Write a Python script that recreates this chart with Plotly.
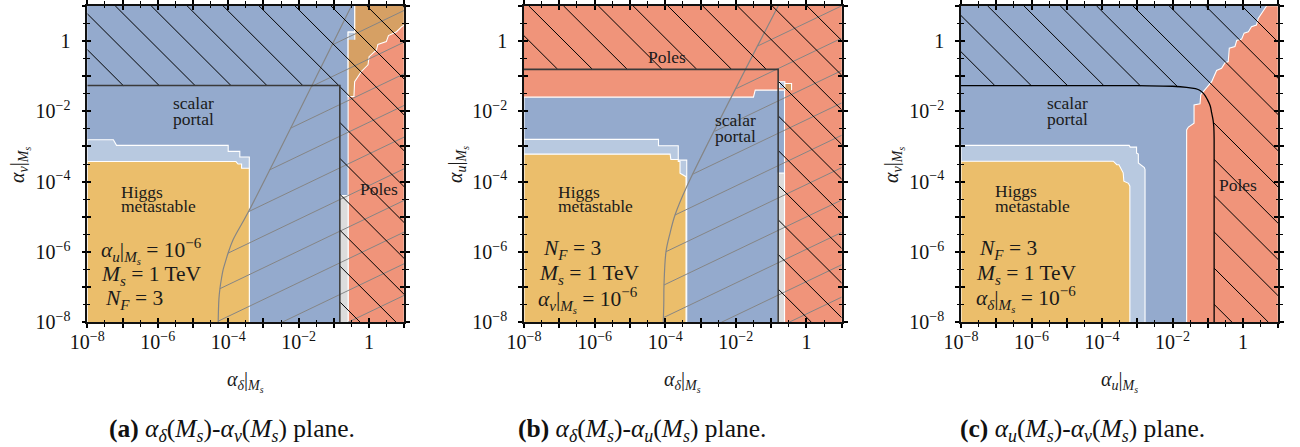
import numpy as np
import plotly.graph_objects as go

SERIF = "Liberation Serif, DejaVu Serif, serif"
W, H = 1300, 447

# ---------------------------------------------------------------
# Region boundaries, all given as log10 of the couplings at M_s
# ---------------------------------------------------------------
LOG_LO, LOG_HI = -8, 1

# (a) alpha_delta (x) vs alpha_v (y)
A_LIGHT_X = [-8, -8, -7.26, -7.17, -4.0, -4.0, -3.67, -3.67, -3.40, -3.40]
A_LIGHT_Y = [-8, -2.81, -2.81, -2.97, -2.97, -3.14, -3.14, -3.30, -3.30, -8]
A_HIGGS_X = [-8, -8, -3.78, -3.72, -3.62, -3.62, -3.40, -3.40]
A_HIGGS_Y = [-8, -3.43, -3.43, -3.50, -3.50, -3.62, -3.62, -8]
A_POLES_X = [-0.595, -0.595, -0.406, -0.406, 1, 1]
A_POLES_Y = [-8, 0.03, 0.03, 1, 1, -8]
A_OVERLAP_X = [-0.406, -0.406, -0.595, -0.595, -0.43, -0.41, -0.22, -0.03, 0.0,
               0.21, 0.25, 0.49, 0.55, 0.78, 0.92, 1, 1]
A_OVERLAP_Y = [1, 0.25, 0.25, -1.58, -1.58, -1.16, -0.87, -0.68, -0.45,
               -0.26, -0.10, -0.02, 0.15, 0.26, 0.40, 0.45, 1]
A_NOTCH_X = [-0.595, -0.595, -0.406, -0.406]
A_NOTCH_Y = [0.03, 0.25, 0.25, 0.03]
A_GREY_X = [-0.83, -0.83, -0.595, -0.595]
A_GREY_Y = [-8, -4.40, -4.40, -8]
A_BOX_X = [-8, -0.83, -0.83]
A_BOX_Y = [-1.27, -1.27, -8]
A_CURVE_X = [-4.284, -4.264, -4.235, -4.187, -4.142, -4.065, -4.0, -3.858, -3.433, -0.499]
A_CURVE_Y = [-8, -7.349, -7.045, -6.733, -6.498, -6.234, -6.024, -5.647, -4.872, 1]

# (b) alpha_delta (x) vs alpha_u (y)
B_SCALAR_X = [-8, -8, -1.50, -1.45, -0.62, -0.62]
B_SCALAR_Y = [-8, -1.60, -1.60, -1.40, -1.40, -8]
B_LIGHT_X = [-8, -8, -4.19, -4.19, -3.63, -3.63, -3.39, -3.39]
B_LIGHT_Y = [-8, -2.80, -2.80, -2.98, -2.98, -3.39, -3.39, -8]
B_HIGGS_X = [-8, -8, -3.86, -3.84, -3.63, -3.63, -3.58, -3.58, -3.41, -3.41]
B_HIGGS_Y = [-8, -3.22, -3.22, -3.37, -3.37, -3.43, -3.43, -3.76, -3.86, -8]
B_NOTCH_X = [-0.77, -0.77, -0.61, -0.61]
B_NOTCH_Y = [-1.34, -1.16, -1.16, -1.34]
B_OVERLAP_X = [-0.61, -0.61, -0.42, -0.42]
B_OVERLAP_Y = [-1.40, -1.21, -1.21, -1.40]
B_GREY_X = [-0.80, -0.80, -0.62, -0.62]
B_GREY_Y = [-8, -3.76, -3.76, -8]
B_BOX_X = [-8, -0.80, -0.80]
B_BOX_Y = [-0.81, -0.81, -8]
B_CURVE_X = [-4.054, -4.04, -4.034, -3.977, -3.864, -3.722, -3.391, -0.796]
B_CURVE_Y = [-8, -7.46, -6.94, -5.99, -5.47, -4.95, -4.145, 1]

# (c) alpha_u (x) vs alpha_v (y)
C_LIGHT_X = [-8, -8, -3.23, -3.20, -3.02, -3.02, -2.97, -2.97, -2.80, -2.78, -2.78]
C_LIGHT_Y = [-8, -2.97, -2.97, -3.02, -3.02, -3.19, -3.22, -3.47, -3.60, -3.66, -8]
C_HIGGS_X = [-8, -8, -3.68, -3.62, -3.58, -3.52, -3.40, -3.38, -3.25, -3.21, -3.21]
C_HIGGS_Y = [-8, -3.42, -3.42, -3.48, -3.52, -3.52, -3.75, -3.99, -4.05, -4.13, -8]
C_POLES_X = [-1.60, -1.60, -1.55, -1.39, -1.39, -1.22, -1.20, -1.01, -0.89, -0.75,
             -0.61, -0.51, -0.42, -0.39, -0.23, -0.18, -0.04, 0.03, 0.15, 0.24,
             0.38, 0.43, 0.52, 0.67, 1, 1]
C_POLES_Y = [-8, -2.53, -2.45, -2.34, -1.82, -1.79, -1.53, -1.31, -1.16, -0.84,
             -0.78, -0.62, -0.59, -0.21, -0.16, 0.01, 0.05, 0.22, 0.26, 0.40,
             0.45, 0.64, 0.78, 1, 1, -8]
C_BOUND_X = [-8, -3, -2, -1.6, -1.35, -1.22, -1.1, -1.01, -0.93, -0.89, -0.85, -0.83, -0.82, -0.82]
C_BOUND_Y = [-1.27, -1.27, -1.29, -1.32, -1.36, -1.41, -1.52, -1.67, -1.85, -2.05, -2.25, -2.43, -2.8, -8]

# tick labels (exponents of 10)
TICK_EXP = list(range(-8, 2))
LABEL_EXP = [-8, -6, -4, -2, 0]

# ---------------------------------------------------------------
C_SCALAR = "#94AACD"
C_LIGHT = "#B8C9E0"
C_HIGGS = "#EBBE6B"
C_POLES = "#F0947A"
C_OVERLAP = "#D6A064"
C_GREY = "#DCDCDC"
HATCH_GREY = "#858585"
EDGE = "white"

X_DOMAINS = [[87.3 / W, 404.3 / W], [524 / W, 841.7 / W], [961 / W, 1278.3 / W]]
Y_DOMAIN = [(H - 322.3) / H, (H - 5.7) / H]


def exp10(v):
    return [10.0 ** t for t in v]


def in_poly(x, y, vx, vy):
    x = np.asarray(x, float)
    y = np.asarray(y, float)
    inside = np.zeros(x.shape, bool)
    n = len(vx)
    j = n - 1
    for i in range(n):
        xi, yi, xj, yj = vx[i], vy[i], vx[j], vy[j]
        crosses = (yi > y) != (yj > y)
        with np.errstate(divide="ignore", invalid="ignore"):
            xint = (xj - xi) * (y - yi) / (yj - yi) + xi
        inside ^= crosses & (x < xint)
        j = i
    return inside


def hatch(slope, offsets, keep, n=6000):
    t = np.linspace(LOG_LO, LOG_HI, n)
    xs, ys = [], []
    for c in offsets:
        y = c + slope * t
        m = keep(t, y) & (y >= LOG_LO) & (y <= LOG_HI)
        if not m.any():
            continue
        d = np.diff(np.r_[0, m.astype(int), 0])
        starts = np.where(d == 1)[0]
        ends = np.where(d == -1)[0] - 1
        for s, e in zip(starts, ends):
            if e > s:
                xs += [10 ** t[s], 10 ** t[e], None]
                ys += [10 ** y[s], 10 ** y[e], None]
    return xs, ys


fig = go.Figure()


def area(px, py, color, ax, edge=EDGE):
    fig.add_trace(go.Scatter(
        x=exp10(px), y=exp10(py), fill="toself", fillcolor=color, mode="lines",
        line=dict(color=edge, width=1.1), xaxis="x" + ax, yaxis="y" + ax,
        hoverinfo="skip", showlegend=False))


def lines(xs, ys, color, width, ax, shape="linear"):
    fig.add_trace(go.Scatter(
        x=xs, y=ys, mode="lines", line=dict(color=color, width=width, shape=shape),
        xaxis="x" + ax, yaxis="y" + ax, hoverinfo="skip", showlegend=False))


FULL_X = [-8, -8, 1, 1]
FULL_Y = [-8, 1, 1, -8]

# ---------------- panel (a) ----------------
ax = ""
area(FULL_X, FULL_Y, C_SCALAR, ax, edge=C_SCALAR)
area(A_LIGHT_X, A_LIGHT_Y, C_LIGHT, ax)
area(A_HIGGS_X, A_HIGGS_Y, C_HIGGS, ax)
area(A_POLES_X, A_POLES_Y, C_POLES, ax)
area(A_OVERLAP_X, A_OVERLAP_Y, C_OVERLAP, ax)
area(A_NOTCH_X, A_NOTCH_Y, C_LIGHT, ax)
area(A_GREY_X, A_GREY_Y, C_GREY, ax)

gx = A_CURVE_X + [1, 1]
gy = A_CURVE_Y + [1, -8]
hx, hy = hatch(0.48, [-7.045 - 0.48 * -4.235 + 0.9 * k for k in range(-12, 16)],
               lambda x, y: in_poly(x, y, gx, gy))
lines(hx, hy, HATCH_GREY, 1, ax)
lines(exp10(A_CURVE_X), exp10(A_CURVE_Y), HATCH_GREY, 1.2, ax, "spline")
bx = A_BOX_X + [-8]
by = A_BOX_Y + [-8]
hx, hy = hatch(-1, [-5.19 + 1.02 * k for k in range(-12, 12)],
               lambda x, y: ~in_poly(x, y, bx, by))
lines(hx, hy, "black", 1, ax)
lines(exp10(A_BOX_X), exp10(A_BOX_Y), "#3a3a3a", 1.6, ax)

# ---------------- panel (b) ----------------
ax = "2"
area(FULL_X, FULL_Y, C_POLES, ax, edge=C_POLES)
area(B_SCALAR_X, B_SCALAR_Y, C_SCALAR, ax)
area(B_LIGHT_X, B_LIGHT_Y, C_LIGHT, ax)
area(B_HIGGS_X, B_HIGGS_Y, C_HIGGS, ax)
area(B_NOTCH_X, B_NOTCH_Y, C_LIGHT, ax)
area(B_OVERLAP_X, B_OVERLAP_Y, C_OVERLAP, ax)
area(B_GREY_X, B_GREY_Y, C_GREY, ax)

gx = B_CURVE_X + [1, 1]
gy = B_CURVE_Y + [1, -8]
hx, hy = hatch(0.48, [-6.94 - 0.48 * -4.034 + 0.92 * k for k in range(-12, 16)],
               lambda x, y: in_poly(x, y, gx, gy))
lines(hx, hy, HATCH_GREY, 1, ax)
lines(exp10(B_CURVE_X), exp10(B_CURVE_Y), HATCH_GREY, 1.2, ax, "spline")
bx = B_BOX_X + [-8]
by = B_BOX_Y + [-8]
hx, hy = hatch(-1, [-4.90 + 0.985 * k for k in range(-12, 12)],
               lambda x, y: ~in_poly(x, y, bx, by))
lines(hx, hy, "black", 1, ax)
lines(exp10(B_BOX_X), exp10(B_BOX_Y), "#3a3a3a", 1.6, ax)

# ---------------- panel (c) ----------------
ax = "3"
area(FULL_X, FULL_Y, C_SCALAR, ax, edge=C_SCALAR)
area(C_LIGHT_X, C_LIGHT_Y, C_LIGHT, ax)
area(C_HIGGS_X, C_HIGGS_Y, C_HIGGS, ax)
area(C_POLES_X, C_POLES_Y, C_POLES, ax)
bx = C_BOUND_X + [-8]
by = C_BOUND_Y + [-8]
hx, hy = hatch(-1, [-4.19 + 1.03 * k for k in range(-12, 12)],
               lambda x, y: ~in_poly(x, y, bx, by))
lines(hx, hy, "black", 1, ax)
lines(exp10(C_BOUND_X), exp10(C_BOUND_Y), "black", 1.3, ax, "spline")

# traces carrying the inner tick axes
for k in ("4", "5", "6"):
    fig.add_trace(go.Scatter(x=[1e-8], y=[1e-8], mode="markers", marker=dict(opacity=0),
                             xaxis="x" + k, yaxis="y" + k, hoverinfo="skip", showlegend=False))


# ---------------- axes ----------------
def tick_text(e):
    if e not in LABEL_EXP:
        return ""
    return "1" if e == 0 else "10<sup>\u2212%d</sup>" % (-e)


TICKVALS = [10.0 ** e for e in TICK_EXP]
TICKTEXT = [tick_text(e) for e in TICK_EXP]
MINORVALS = [10.0 ** (e + 0.5) for e in TICK_EXP[:-1]]


def main_axis(domain, anchor, standoff):
    d = dict(type="log", range=[LOG_LO, LOG_HI], anchor=anchor, automargin=False,
             tickmode="array", tickvals=TICKVALS, ticktext=TICKTEXT,
             ticks="outside", ticklen=4, tickwidth=1.6, tickcolor="black",
             minor=dict(tickmode="array", tickvals=MINORVALS, ticks="outside",
                        ticklen=2.6, tickwidth=1.4, tickcolor="black"),
             showline=True, linecolor="#111", linewidth=1.6, mirror="ticks",
             showgrid=False, zeroline=False, ticklabelstandoff=standoff,
             tickfont=dict(family=SERIF, size=20, color="#111"))
    if domain is not None:
        d["domain"] = domain
    return d


def inner_axis(over, anchor):
    return dict(type="log", range=[LOG_LO, LOG_HI], overlaying=over, anchor=anchor,
                automargin=False, tickmode="array", tickvals=TICKVALS, showticklabels=False,
                ticks="inside", ticklen=4, tickwidth=1.6, tickcolor="black",
                minor=dict(tickmode="array", tickvals=MINORVALS, ticks="inside",
                           ticklen=2.6, tickwidth=1.4, tickcolor="black"),
                showline=False, mirror="ticks", showgrid=False, zeroline=False)


layout = dict(width=W, height=H, autosize=False,
              margin=dict(l=0, r=0, t=0, b=0, pad=0, autoexpand=False),
              paper_bgcolor="white", plot_bgcolor="white", showlegend=False)
for i, (xa, ya) in enumerate([("", ""), ("2", "2"), ("3", "3")]):
    layout["xaxis" + xa] = main_axis(X_DOMAINS[i], "y" + ya, -3)
    yd = main_axis(None, "x" + xa, 7)
    yd["domain"] = Y_DOMAIN
    layout["yaxis" + ya] = yd
for k, base in (("4", ""), ("5", "2"), ("6", "3")):
    layout["xaxis" + k] = inner_axis("x" + base, "y" + base)
    layout["yaxis" + k] = inner_axis("y" + base, "x" + base)
fig.update_layout(**layout)

# ---------------- text ----------------
TXT = "#1a1a1a"


def label(ax, x, y, text, size=17.5):
    fig.add_annotation(x=x, y=y, xref="x" + ax, yref="y" + ax, text=text, showarrow=False,
                       xanchor="left", yanchor="middle", borderpad=0,
                       font=dict(family=SERIF, size=size, color=TXT))


def msub(sym, sub):
    return "<i>%s<sub>%s</sub></i>" % (sym, sub)


ALPHA_AT = lambda s: "%s|<sub><i>M<sub>s</sub></i></sub>" % msub("\u03b1", s)

MATH = 21.5
# (a)
label("", -5.606, -1.775, "scalar")
label("", -5.606, -2.214, "portal")
label("", -7.07, -4.285, "Higgs")
label("", -7.07, -4.682, "metastable")
label("", -0.284, -4.20, "Poles")
label("", -7.64, -5.96, ALPHA_AT("u") + " = 10<sup>\u22126</sup>", MATH)
label("", -7.64, -6.67, msub("M", "s") + " = 1 TeV", MATH)
label("", -7.53, -7.35, msub("N", "F") + " = 3", MATH)
# (b)
label("2", -4.51, -0.47, "Poles")
label("2", -2.62, -2.263, "scalar")
label("2", -2.62, -2.704, "portal")
label("2", -7.07, -4.30, "Higgs")
label("2", -7.07, -4.69, "metastable")
label("2", -7.50, -5.94, msub("N", "F") + " = 3", MATH)
label("2", -7.59, -6.655, msub("M", "s") + " = 1 TeV", MATH)
label("2", -7.62, -7.37, ALPHA_AT("v") + " = 10<sup>\u22126</sup>", MATH)
# (c)
label("3", -5.60, -1.774, "scalar")
label("3", -5.60, -2.213, "portal")
label("3", -7.06, -4.28, "Higgs")
label("3", -7.06, -4.68, "metastable")
label("3", -0.70, -4.11, "Poles")
label("3", -7.51, -5.93, msub("N", "F") + " = 3", MATH)
label("3", -7.60, -6.64, msub("M", "s") + " = 1 TeV", MATH)
label("3", -7.60, -7.35, ALPHA_AT("\u03b4") + " = 10<sup>\u22126</sup>", MATH)

X_TITLES = [ALPHA_AT("\u03b4"), ALPHA_AT("\u03b4"), ALPHA_AT("u")]
Y_TITLES = [ALPHA_AT("v"), ALPHA_AT("u"), ALPHA_AT("v")]
Y_TITLE_PX = [19, 457, 893]
CAPTIONS = [
    "<b>(a)</b> " + msub("\u03b1", "\u03b4") + "(" + msub("M", "s") + ")-" + msub("\u03b1", "v")
    + "(" + msub("M", "s") + ") plane.",
    "<b>(b)</b> " + msub("\u03b1", "\u03b4") + "(" + msub("M", "s") + ")-" + msub("\u03b1", "u")
    + "(" + msub("M", "s") + ") plane.",
    "<b>(c)</b> " + msub("\u03b1", "u") + "(" + msub("M", "s") + ")-" + msub("\u03b1", "v")
    + "(" + msub("M", "s") + ") plane.",
]
CAPTION_PX = [232, 642, 1082]

for i in range(3):
    cx = (X_DOMAINS[i][0] + X_DOMAINS[i][1]) / 2
    fig.add_annotation(x=cx, y=(H - 381) / H, xref="paper", yref="paper", text=X_TITLES[i],
                       showarrow=False, xanchor="center", yanchor="middle",
                       font=dict(family=SERIF, size=20, color=TXT))
    fig.add_annotation(x=Y_TITLE_PX[i] / W, y=(H - 165) / H, xref="paper", yref="paper",
                       text=Y_TITLES[i], textangle=-90, showarrow=False,
                       xanchor="center", yanchor="middle",
                       font=dict(family=SERIF, size=20, color=TXT))
    fig.add_annotation(x=CAPTION_PX[i] / W, y=(H - 430) / H, xref="paper", yref="paper",
                       text=CAPTIONS[i], showarrow=False, xanchor="center", yanchor="middle",
                       font=dict(family=SERIF, size=25.5, color="#111"))

fig.write_html("out.html")
